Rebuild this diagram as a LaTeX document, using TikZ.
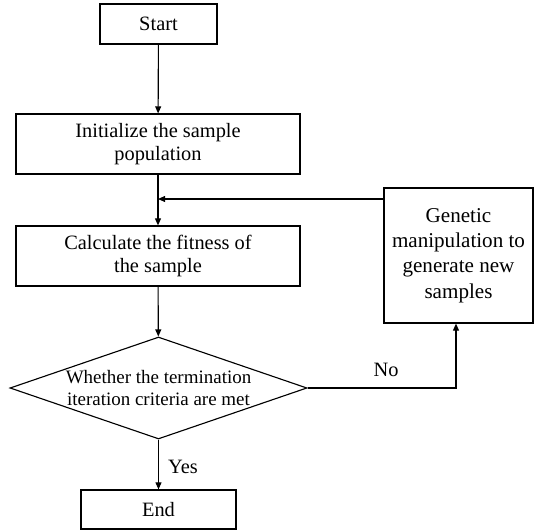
\documentclass[tikz,border=0pt]{standalone}
\usepackage{fontspec}
\setmainfont{Liberation Serif}
\usetikzlibrary{shapes.geometric,arrows.meta}

\begin{document}
\begin{tikzpicture}[
  procbox/.style={rectangle,draw,line width=0.8pt,align=center,inner sep=2pt,
                  font=\fontsize{14.5}{16.5}\selectfont},
  decision/.style={diamond,draw,line width=0.8pt,minimum width=7.425cm,
                   minimum height=2.55cm,inner sep=0pt},
  arr/.style={-{Triangle[length=5pt,width=4.2pt]},line width=0.8pt},
  branch/.style={font=\fontsize{14.5}{16.5}\selectfont},
]
\useasboundingbox (0,0) rectangle (13.35,-13.275);

% Main column
\node[procbox,minimum width=2.925cm,minimum height=1.0cm] (start) at (3.9625,-0.6) {Start};
\node[procbox,minimum width=7.1cm,minimum height=1.5cm] (init) at (3.95,-3.6)
  {Initialize the sample\\population};
\node[procbox,minimum width=7.1cm,minimum height=1.5cm] (calc) at (3.95,-6.4)
  {Calculate the fitness of\\the sample};
\node[decision] (check) at (3.9625,-9.7) {};
\node[font=\fontsize{13.5}{15.6}\selectfont,align=center] (checktext) at (check.center)
  {Whether the termination\\iteration criteria are met};
\node[procbox,minimum width=3.875cm,minimum height=0.975cm] (end) at (3.9625,-12.7375) {End};

% Side box
\node[procbox,minimum width=3.725cm,minimum height=3.375cm,
      font=\fontsize{15}{18}\selectfont] (genetic) at (11.4625,-6.3875)
  {Genetic\\manipulation to\\generate new\\samples};

% Helper points
\coordinate (fb) at (3.95,-4.975);
\coordinate (turn) at (11.4,-9.7);

% Arrows
\draw[arr] (start) -- (init);
\draw[arr] (init) -- (calc);
\draw[arr] (calc) -- (check);
\draw[arr] (check) -- (end);
\draw[arr] (check.east) -- (turn) -- (genetic.south -| turn);
\draw[arr] (genetic.west |- fb) -- (fb);

% Branch labels
\node[branch] (yes) at (4.575,-11.675) {Yes};
\node[branch] (no) at (9.65,-9.25) {No};

\end{tikzpicture}
\end{document}
